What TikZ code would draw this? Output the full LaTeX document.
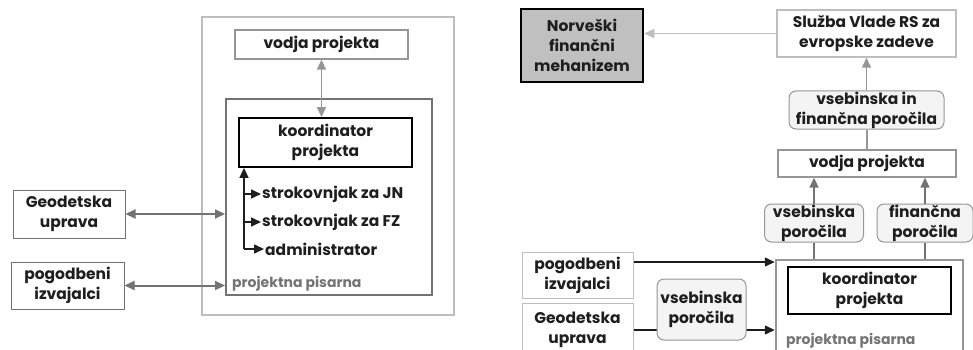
\documentclass[tikz,border=0pt]{standalone}
\usepackage{fontspec}
\setmainfont{Poppins}
\usetikzlibrary{arrows.meta}

\definecolor{inkgray}{RGB}{30,30,30}
\definecolor{lightgray}{RGB}{190,190,190}
\definecolor{midgray}{RGB}{150,150,150}
\definecolor{darkgray}{RGB}{115,115,115}
\definecolor{boxfill}{RGB}{244,244,244}
\definecolor{norvfill}{RGB}{192,192,192}
\newcommand{\boxfont}{\fontsize{15.5}{20}\selectfont\bfseries}
\newcommand{\lblfont}{\fontsize{14}{16}\selectfont\bfseries}

\begin{document}
\begin{tikzpicture}[x=1pt,y=1pt,yscale=-1,xscale=1,
  box/.style={draw=midgray,line width=1.3pt,fill=white,align=center,inner sep=0pt,text=inkgray,font=\boxfont},
  kbox/.style={box,draw=black,line width=1.8pt},
  frame/.style={draw=darkgray,line width=2pt,inner sep=0pt},
  rbox/.style={box,rounded corners=7pt,fill=boxfill,line width=1pt},
  txt/.style={anchor=west,inner sep=1pt,text=inkgray,font=\boxfont},
  lbl/.style={anchor=west,inner sep=1pt,text=darkgray,font=\lblfont},
  tip/.style={-{Triangle[length=10pt,width=9pt]}},
  dtip/.style={{Triangle[length=10pt,width=9pt]}-{Triangle[length=10pt,width=9pt]}}]
\clip (0,0) rectangle (973,350);

%%% left diagram
%Shape: Rectangle
\node[frame,draw=lightgray,line width=1.5pt,minimum width=252,minimum height=298] (frameL) at (328,166) {};
%Shape: Rectangle
\node[frame,minimum width=206,minimum height=196] (pisarnaL) at (329,197) {};
%Shape: Rectangle
\node[box,minimum width=173,minimum height=29] (vodjaL) at (321.5,44.5) {vodja projekta};
%Shape: Rectangle
\node[kbox,minimum width=173,minimum height=49] (koordL) at (325.5,142.5) {koordinator\\projekta};
%Shape: Rectangle
\node[box,draw=darkgray,line width=1pt,minimum width=112,minimum height=48] (geoL) at (69,214) {Geodetska\\uprava};
%Shape: Rectangle
\node[box,draw=darkgray,line width=1pt,minimum width=113,minimum height=47] (pogL) at (67.5,285.5) {pogodbeni\\izvajalci};

% Text Node
\node[txt] (jn) at (261,194) {strokovnjak za JN};
% Text Node
\node[txt] (fz) at (261,222) {strokovnjak za FZ};
% Text Node
\node[txt] (adm) at (264,249) {administrator};
% Text Node
\node[lbl] (pisL) at (231,284) {projektna pisarna};

%Straight Lines
\coordinate (trunk) at (244,249);
\draw[tip,line width=1.5pt,draw=inkgray,fill=inkgray] (trunk) -- (trunk |- koordL.south);
\draw[tip,line width=1.5pt,draw=inkgray,fill=inkgray] (trunk) -- (adm.west);
\draw[tip,line width=1.5pt,draw=inkgray,fill=inkgray] (trunk |- jn.west) -- (jn.west);
\draw[tip,line width=1.5pt,draw=inkgray,fill=inkgray] (trunk |- fz.west) -- (fz.west);
\draw[dtip,line width=1.5pt,draw=midgray,fill=midgray] (vodjaL.south) -- (vodjaL.south |- koordL.north);
\draw[dtip,line width=2pt,draw=darkgray,fill=darkgray] (geoL.east) -- (geoL.east -| pisarnaL.west);
\draw[dtip,line width=2pt,draw=darkgray,fill=darkgray] (pogL.east) -- (pogL.east -| pisarnaL.west);

%%% right diagram
%Shape: Rectangle
\node[box,draw=black,line width=2.5pt,fill=norvfill,minimum width=122,minimum height=73] (norv) at (582,45.5) {Norveški\\finančni\\mehanizem};
%Shape: Rectangle
\node[box,draw=lightgray,line width=1.5pt,minimum width=179,minimum height=47] (sluzba) at (866.5,33.5) {Služba Vlade RS za\\evropske zadeve};
%Shape: Rounded Rect
\node[rbox,minimum width=155,minimum height=38] (vifp) at (866.5,110) {vsebinska in\\finančna poročila};
%Shape: Rectangle
\node[box,minimum width=178,minimum height=27] (vodjaR) at (867,163.5) {vodja projekta};
%Shape: Rounded Rect
\node[rbox,minimum width=99,minimum height=38] (vpR) at (814,223) {vsebinska\\poročila};
%Shape: Rounded Rect
\node[rbox,minimum width=96,minimum height=38] (fpR) at (925,223) {finančna\\poročila};
%Shape: Rectangle
\node[frame,draw=midgray,line width=2.5pt,minimum width=187,minimum height=120] (pisarnaR) at (869.5,320) {};
%Shape: Rectangle
\node[kbox,minimum width=163,minimum height=47] (koordR) at (869.5,290.5) {koordinator\\projekta};
% Text Node
\node[lbl] (pisR) at (785,341) {projektna pisarna};
%Shape: Rectangle
\node[box,draw=lightgray,line width=1pt,minimum width=111,minimum height=46] (pogR) at (577.5,275) {pogodbeni\\izvajalci};
%Shape: Rectangle
\node[box,draw=lightgray,line width=1pt,minimum width=111,minimum height=54] (geoR) at (577.5,330) {Geodetska\\uprava};

%Straight Lines
\draw[tip,line width=1.5pt,draw=lightgray,fill=lightgray] (sluzba.west) -- (sluzba.west -| norv.east);
\draw[tip,line width=1.5pt,draw=midgray,fill=midgray] (vifp.north) -- (vifp.north |- sluzba.south);
\draw[line width=1.5pt,draw=midgray] (vodjaR.north) -- (vodjaR.north |- vifp.south);
\draw[tip,line width=1.5pt,draw=darkgray,fill=darkgray] (vpR.north) -- (vpR.north |- vodjaR.south);
\draw[tip,line width=1.5pt,draw=darkgray,fill=darkgray] (fpR.north) -- (fpR.north |- vodjaR.south);
\draw[line width=1.5pt,draw=darkgray] (vpR.south) -- (vpR.south |- pisarnaR.north);
\draw[line width=1.5pt,draw=darkgray] (fpR.south) -- (fpR.south |- pisarnaR.north);
\draw[tip,line width=1.5pt,draw=inkgray,fill=inkgray] ([yshift=-13pt]pogR.east) -- ([yshift=-13pt]pogR.east -| pisarnaR.west);
\draw[tip,line width=1.5pt,draw=inkgray,fill=inkgray] (geoR.east) -- (geoR.east -| pisarnaR.west);
%Shape: Rounded Rect
\node[rbox,minimum width=89,minimum height=61] (vpM) at (701.5,309.5) {vsebinska\\poročila};

\end{tikzpicture}
\end{document}
